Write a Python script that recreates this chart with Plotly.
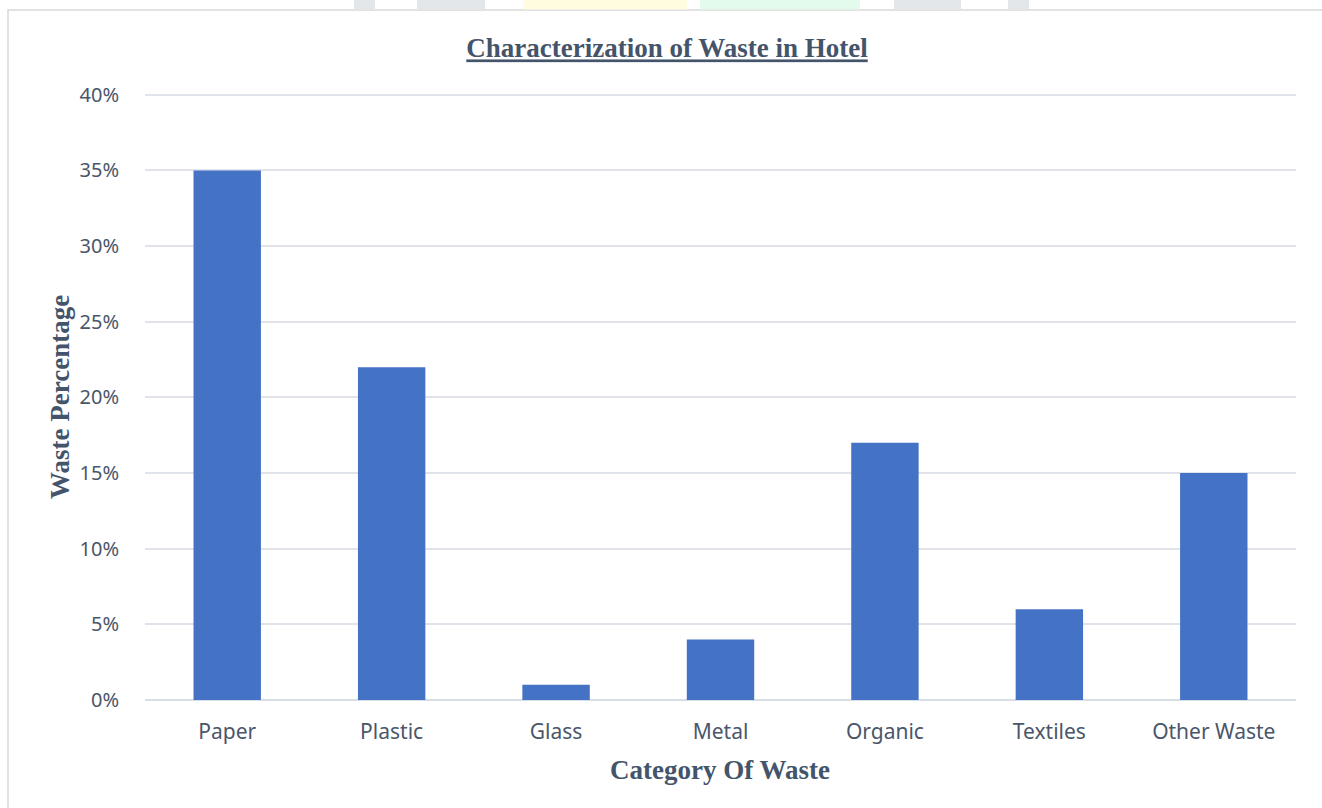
import plotly.graph_objects as go

categories = ["Paper", "Plastic", "Glass", "Metal", "Organic", "Textiles", "Other Waste"]
waste_pct = [0.35, 0.22, 0.01, 0.04, 0.17, 0.06, 0.15]
y_ticks = [0, 0.05, 0.10, 0.15, 0.20, 0.25, 0.30, 0.35, 0.40]
y_tick_labels = ["0%", "5%", "10%", "15%", "20%", "25%", "30%", "35%", "40%"]

W, H = 1322, 808
L, R, T, B = 145, 26, 91, 108
pw, ph = W - L - R, H - T - B

def px(x):
    return (x - L) / pw

def py(y):
    return 1 - (y - T) / ph

text_col = "#44546A"
tick_col = "#4A566A"

fig = go.Figure(go.Bar(
    x=categories, y=waste_pct,
    marker=dict(color="#4472C4", line=dict(width=0)),
    hoverinfo="x+y",
))

shapes = [
    dict(type="rect", xref="paper", yref="paper",
         x0=px(8), x1=px(1330), y0=py(10), y1=py(815),
         line=dict(color="#D9D9D9", width=1.5), fillcolor="rgba(0,0,0,0)", layer="below"),
]
# faint watermark fragments above the chart frame
for x0, x1, col in [(354, 375, "#E3E7EA"), (417, 485, "#E3E7EA"), (523, 687, "#FFFCE0"),
                    (700, 860, "#E3FBEC"), (894, 961, "#E3E7EA"), (1008, 1029, "#E3E7EA")]:
    shapes.append(dict(type="rect", xref="paper", yref="paper",
                       x0=px(x0), x1=px(x1), y0=py(0), y1=py(9.5),
                       line=dict(width=0), fillcolor=col, layer="below"))

fig.update_layout(
    width=W, height=H,
    margin=dict(l=L, r=R, t=T, b=B, autoexpand=False),
    paper_bgcolor="white", plot_bgcolor="white",
    bargap=0.59,
    showlegend=False,
    shapes=shapes,
    title=dict(text="<u>Characterization of Waste in Hotel</u>",
               x=px(667), xanchor="center", xref="paper",
               y=1 - 48 / H, yanchor="middle", yref="container",
               font=dict(family="Liberation Serif", size=27, color=text_col, weight="bold")),
    xaxis=dict(showgrid=False, showline=False, zeroline=False,
               tickfont=dict(family="Noto Sans", size=21, color=tick_col),
               ticks="outside", ticklen=13, tickcolor="rgba(0,0,0,0)"),
    yaxis=dict(range=[0, 0.4025], tickvals=y_ticks, ticktext=y_tick_labels,
               showgrid=True, gridcolor="#E0E4EA", gridwidth=1.5,
               zeroline=True, zerolinecolor="#D9DEE6", zerolinewidth=1.5,
               showline=False,
               tickfont=dict(family="Noto Sans", size=20, color=tick_col),
               ticks="outside", ticklen=21, tickcolor="rgba(0,0,0,0)"),
    annotations=[
        dict(text="<b>Waste Percentage</b>", xref="paper", yref="paper",
             x=px(60), y=py(397), textangle=-90, showarrow=False,
             xanchor="center", yanchor="middle",
             font=dict(family="Liberation Serif", size=27, color=text_col)),
        dict(text="<b>Category Of Waste</b>", xref="paper", yref="paper",
             x=px(720), y=py(770), showarrow=False,
             xanchor="center", yanchor="middle",
             font=dict(family="Liberation Serif", size=27, color=text_col)),
    ],
)

fig.write_html("out.html")
